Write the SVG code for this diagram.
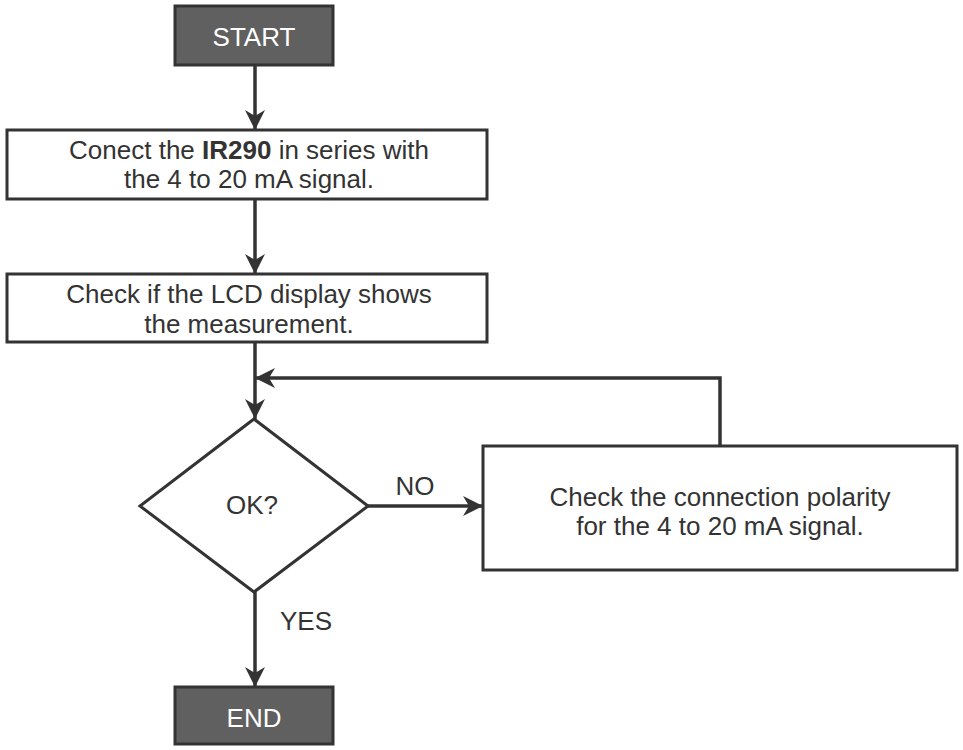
<svg xmlns="http://www.w3.org/2000/svg" width="963" height="750" viewBox="0 0 963 750">
<style>
.box{fill:#fff;stroke:#333;stroke-width:3}
.term{fill:#606060;stroke:#333;stroke-width:3}
.t{font-family:"Liberation Sans",Arial,sans-serif;font-size:26px;fill:#333;text-anchor:middle}
.tw{font-family:"Liberation Sans",Arial,sans-serif;font-size:26px;fill:#fff;text-anchor:middle}
.ln{fill:none;stroke:#333;stroke-width:3.5}
</style>
<defs>
<marker id="ah" viewBox="0 0 20 20" refX="20" refY="10" markerWidth="20" markerHeight="20" markerUnits="userSpaceOnUse" orient="auto">
<path d="M0,0 L20,10 L0,20 L6,10 Z" fill="#333"/>
</marker>
</defs>
<rect width="963" height="750" fill="#fff"/>
<g id="connectors">
<line class="ln" x1="255" y1="65" x2="255" y2="130" marker-end="url(#ah)"/>
<line class="ln" x1="255" y1="199" x2="255" y2="274" marker-end="url(#ah)"/>
<line class="ln" x1="255" y1="342" x2="255" y2="419" marker-end="url(#ah)"/>
<polyline class="ln" points="720,446 720,378 255,378" marker-end="url(#ah)"/>
<line class="ln" x1="368" y1="506" x2="483" y2="506" marker-end="url(#ah)"/>
<line class="ln" x1="255" y1="592" x2="255" y2="687" marker-end="url(#ah)"/>
<text class="t" x="415" y="495">NO</text>
<text class="t" x="306" y="630">YES</text>
</g>
<g id="start">
<rect class="term" x="175" y="6" width="158" height="59"/>
<text class="tw" x="254" y="46">START</text>
</g>
<g id="connect">
<rect class="box" x="7" y="130" width="480" height="69"/>
<text class="t" x="249" y="159">Conect the <tspan font-weight="bold">IR290</tspan> in series with</text>
<text class="t" x="249" y="188">the 4 to 20 mA signal.</text>
</g>
<g id="check">
<rect class="box" x="7" y="274" width="480" height="68"/>
<text class="t" x="249" y="303">Check if the LCD display shows</text>
<text class="t" x="249" y="333">the measurement.</text>
</g>
<g id="ok">
<polygon class="box" points="254,419 368,506 254,592 140,506"/>
<text class="t" x="252" y="514">OK?</text>
</g>
<g id="polarity">
<rect class="box" x="483" y="446" width="474" height="124"/>
<text class="t" x="720" y="506">Check the connection polarity</text>
<text class="t" x="720" y="535">for the 4 to 20 mA signal.</text>
</g>
<g id="end">
<rect class="term" x="175" y="687" width="158" height="57"/>
<text class="tw" x="254" y="727">END</text>
</g>
</svg>
